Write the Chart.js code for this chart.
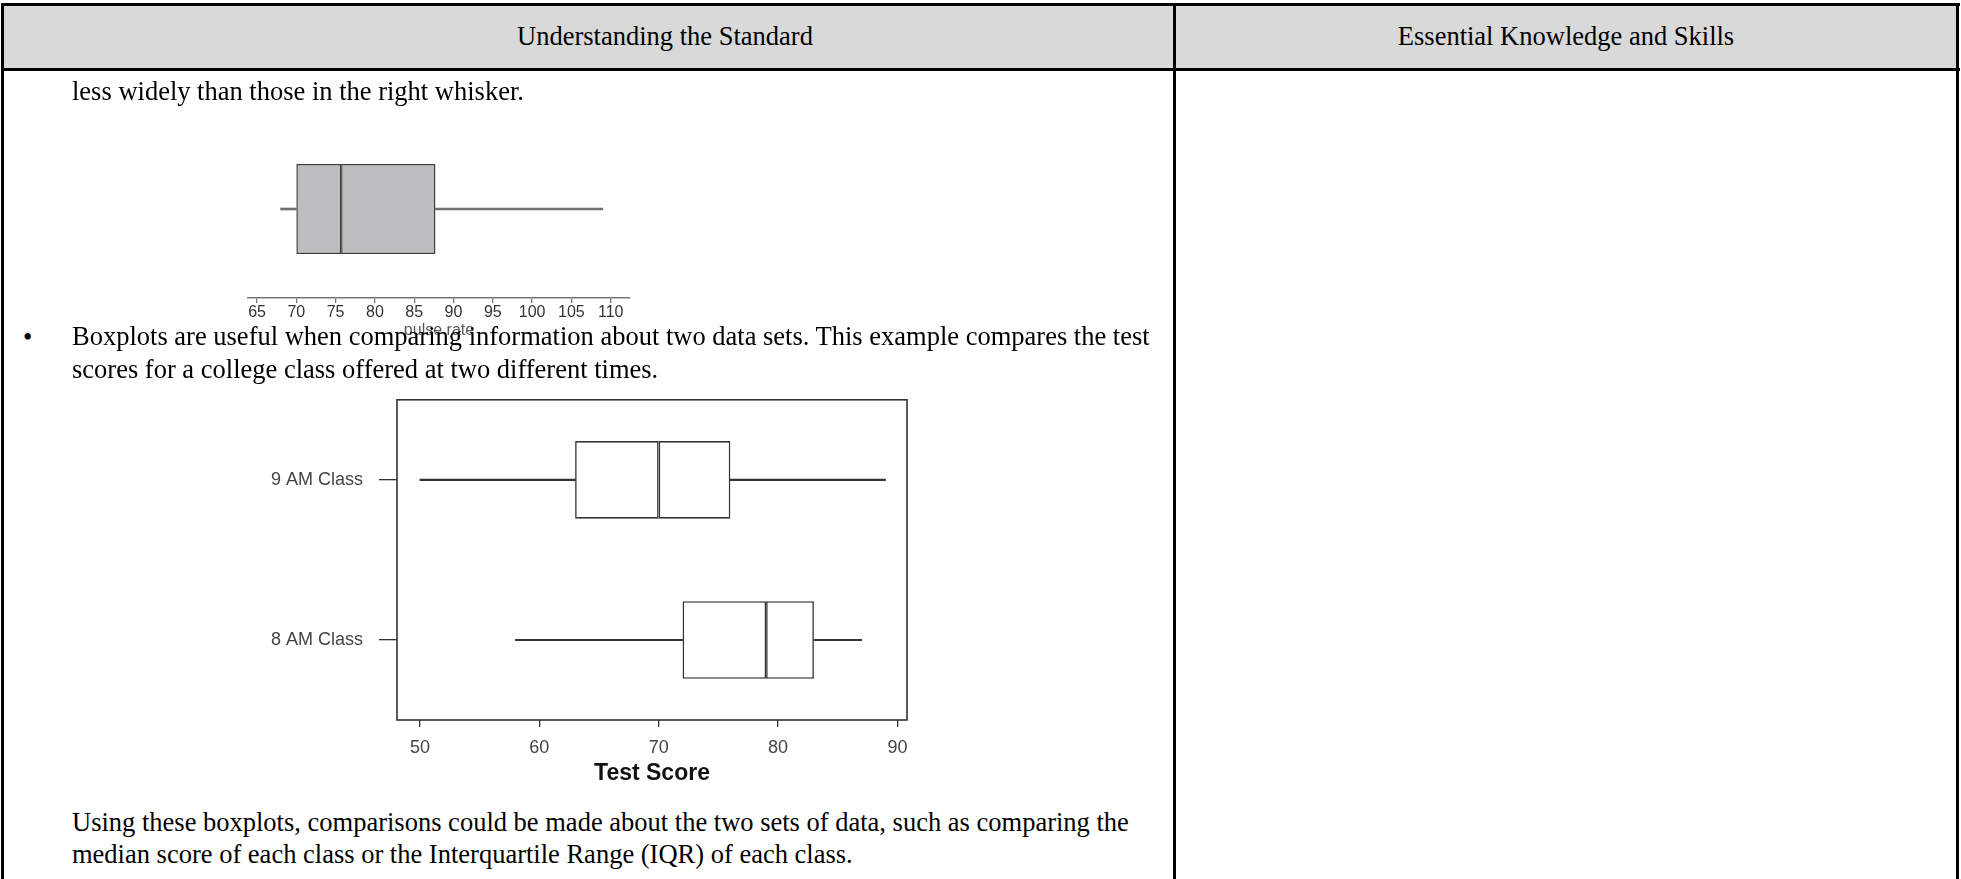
<!DOCTYPE html>
<html>
<head>
<meta charset="utf-8">
<script src="https://cdn.jsdelivr.net/npm/chart.js@4.4.1/dist/chart.umd.min.js"></script>
<style>
  html, body { margin:0; padding:0; background:#fff; }
  body { width:1961px; height:879px; overflow:hidden; position:relative; font-family:"Liberation Serif","Times New Roman",serif; }
  .ln { position:absolute; background:#000; }
  .t { position:absolute; white-space:nowrap; font-size:26.5px; line-height:32px; color:#000; z-index:3; }
  .cv { position:absolute; z-index:1; }
</style>
</head>
<body>
<!-- table header background -->
<div style="position:absolute;left:2px;top:4px;width:1955px;height:65px;background:#d9d9d9;"></div>
<!-- table borders -->
<div class="ln" style="left:1px;top:3px;width:1959px;height:2.5px;"></div>
<div class="ln" style="left:1px;top:68px;width:1959px;height:2.5px;"></div>
<div class="ln" style="left:1px;top:3px;width:2.5px;height:876px;"></div>
<div class="ln" style="left:1173px;top:3px;width:2.5px;height:876px;"></div>
<div class="ln" style="left:1956px;top:3px;width:2.5px;height:876px;"></div>

<div class="t" style="left:665px;top:20px;transform:translateX(-50%);">Understanding the Standard</div>
<div class="t" style="left:1566px;top:20px;transform:translateX(-50%);">Essential Knowledge and Skills</div>

<div class="t" style="left:72px;top:75px;">less widely than those in the right whisker.</div>
<div class="t" style="left:23px;top:321px;">•</div>
<div class="t" style="left:72px;top:320px;">Boxplots are useful when comparing information about two data sets. This example compares the test</div>
<div class="t" style="left:72px;top:353px;">scores for a college class offered at two different times.</div>
<div class="t" style="left:72px;top:806px;">Using these boxplots, comparisons could be made about the two sets of data, such as comparing the</div>
<div class="t" style="left:72px;top:838px;">median score of each class or the Interquartile Range (IQR) of each class.</div>

<canvas id="c1" class="cv" width="420" height="250" style="left:228px;top:100px;"></canvas>
<canvas id="c2" class="cv" width="680" height="427" style="left:250px;top:373px;"></canvas>

<script>
// ---- Pulse rate boxplot data ----
const pulseCategories = ['pulse rate'];
const pulseMin    = [68];
const pulseQ1     = [70];
const pulseMedian = [75.7];
const pulseQ3     = [87.7];
const pulseMax    = [109];
const pulseTicks  = [65, 70, 75, 80, 85, 90, 95, 100, 105, 110];

// ---- Test score boxplot data ----
const classCategories = ['9 AM Class', '8 AM Class'];
const classMin    = [50, 58];
const classQ1     = [63, 72];
const classMedian = [70, 79];
const classQ3     = [76, 83];
const classMax    = [89, 87];
const scoreTicks  = [50, 60, 70, 80, 90];

const pair = (a, b) => a.map((v, i) => [v, b[i]]);

const framePlugin = {
  id: 'frame',
  afterDatasetsDraw(chart, args, opts) {
    if (!opts || !opts.enabled) return;
    const { ctx, chartArea: a } = chart;
    ctx.save();
    ctx.strokeStyle = opts.color;
    ctx.lineWidth = opts.width;
    ctx.strokeRect(a.left, a.top, a.right - a.left, a.bottom - a.top);
    ctx.restore();
  }
};

const sans = 'Liberation Sans, Arial, sans-serif';

// Pulse chart
new Chart(document.getElementById('c1'), {
  type: 'bar',
  data: {
    labels: pulseCategories,
    datasets: [
      { data: pair(pulseMin, pulseQ1), backgroundColor: '#707070', borderWidth: 0, barThickness: 2, grouped: false },
      { data: pair(pulseQ3, pulseMax), backgroundColor: '#707070', borderWidth: 0, barThickness: 2, grouped: false },
      { data: pair(pulseQ1, pulseMedian), backgroundColor: '#bdbdc0', borderColor: '#3c3c3c', borderWidth: 1.5, borderSkipped: false, barPercentage: 0.507, categoryPercentage: 1, grouped: false },
      { data: pair(pulseMedian, pulseQ3), backgroundColor: '#bdbdc0', borderColor: '#3c3c3c', borderWidth: 1.5, borderSkipped: false, barPercentage: 0.507, categoryPercentage: 1, grouped: false }
    ]
  },
  options: {
    indexAxis: 'y', responsive: false, animation: false, events: [],
    layout: { padding: { top: 20, left: 20, right: 18, bottom: 0 } },
    plugins: { legend: { display: false }, tooltip: { enabled: false } },
    scales: {
      x: {
        type: 'linear', min: 63.85, max: 112.46,
        afterBuildTicks: s => { s.ticks = pulseTicks.map(v => ({ value: v })); },
        afterFit: s => { s.height = 52; },
        border: { display: true, color: '#777', width: 1.5 },
        grid: { drawOnChartArea: false, drawTicks: true, tickLength: 5, color: '#777', lineWidth: 1.3 },
        ticks: { font: { family: sans, size: 16 }, color: '#333', padding: 0, maxRotation: 0, autoSkip: false },
        title: { display: true, text: 'pulse rate', font: { family: sans, size: 16 }, color: '#555', padding: { top: 0, bottom: 10 } }
      },
      y: { type: 'category', display: false }
    }
  }
});

// Test score chart
new Chart(document.getElementById('c2'), {
  type: 'bar',
  data: {
    labels: classCategories,
    datasets: [
      { data: pair(classMin, classQ1), backgroundColor: '#333', borderWidth: 0, barThickness: 1.4, grouped: false },
      { data: pair(classQ3, classMax), backgroundColor: '#333', borderWidth: 0, barThickness: 1.4, grouped: false },
      { data: pair(classQ1, classMedian), backgroundColor: '#fff', borderColor: '#333', borderWidth: 1.6, borderSkipped: false, barPercentage: 0.485, categoryPercentage: 1, grouped: false },
      { data: pair(classMedian, classQ3), backgroundColor: '#fff', borderColor: '#333', borderWidth: 1.6, borderSkipped: false, barPercentage: 0.485, categoryPercentage: 1, grouped: false }
    ]
  },
  options: {
    indexAxis: 'y', responsive: false, animation: false, events: [],
    layout: { padding: { top: 19, right: 23, left: 0, bottom: 0 } },
    plugins: { legend: { display: false }, tooltip: { enabled: false }, frame: { enabled: true, color: '#333', width: 1.6 } },
    scales: {
      x: {
        type: 'linear', min: 48.08, max: 90.8,
        afterBuildTicks: s => { s.ticks = scoreTicks.map(v => ({ value: v })); },
        afterFit: s => { s.height = 80; },
        border: { display: false },
        grid: { drawOnChartArea: false, drawTicks: true, tickLength: 7, color: '#333', lineWidth: 1.3 },
        ticks: { font: { family: sans, size: 18 }, color: '#444', padding: 10, maxRotation: 0, autoSkip: false },
        title: { display: true, text: 'Test Score', font: { family: sans, size: 23, weight: 'bold' }, color: '#111', padding: { top: 0, bottom: 13 } }
      },
      y: {
        type: 'category',
        afterFit: s => { s.width = 147; },
        border: { display: false },
        grid: { offset: false, drawOnChartArea: false, drawTicks: true, tickLength: 18, color: '#333', lineWidth: 1.3 },
        ticks: { font: { family: sans, size: 18 }, color: '#444', padding: 16 }
      }
    }
  },
  plugins: [framePlugin]
});
</script>
</body>
</html>
